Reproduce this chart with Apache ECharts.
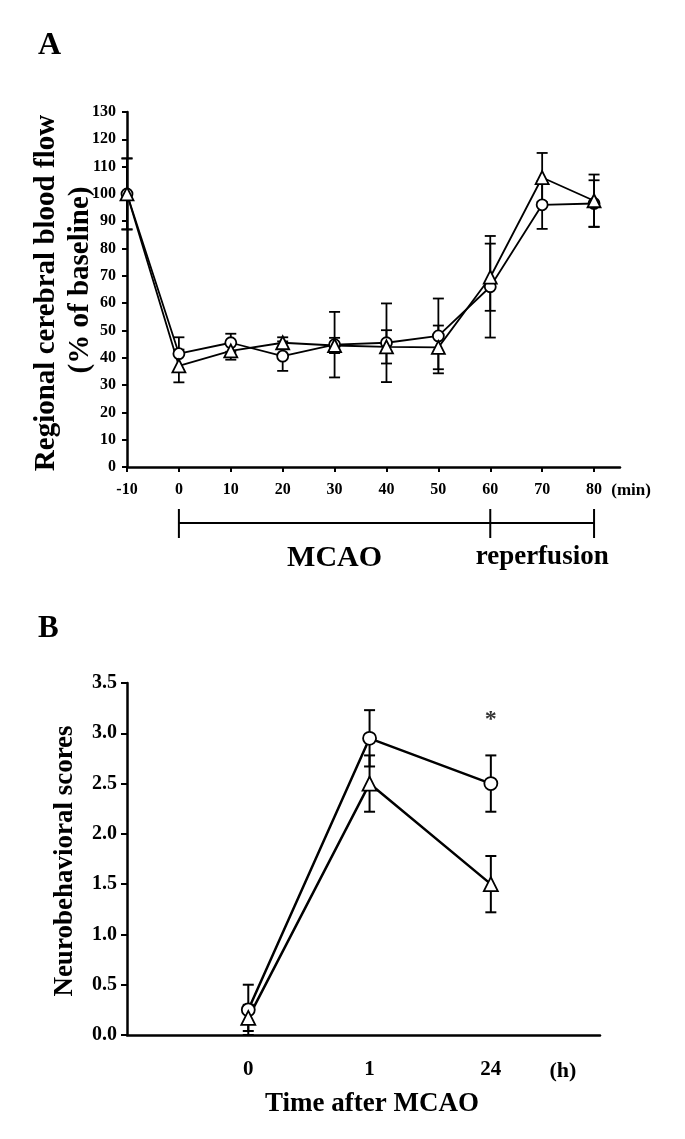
<!DOCTYPE html>
<html>
<head>
<meta charset="utf-8">
<script src="https://cdn.jsdelivr.net/npm/echarts@6/dist/echarts.min.js"></script>
<style>
html,body{margin:0;padding:0;background:#fff;}
#c{width:685px;height:1139px;}
</style>
</head>
<body>
<div id="c"></div>
<script>
// ---------- Panel A data ----------
const xA = [-10, 0, 10, 20, 30, 40, 50, 60, 70, 80];
const xATicks = [-10, 0, 10, 20, 30, 40, 50, 60, 70, 80];
const circA = [100, 41.5, 45.5, 40.6, 44.8, 45.5, 48, 66, 96, 96.5];
const circAErr = [13, 6, 3.3, 5.4, 12, 14.4, 13.7, 18.6, 8.8, 8.5];
const triA = [100, 37, 42.5, 45.5, 44.5, 44, 43.8, 69.5, 106, 97.5];
const triAErr = [13, 6, 3.2, 2, 2.8, 6.1, 8, 12.3, 9, 9.6];
const phaseBounds = [0, 60, 80];
const phaseLabels = ['MCAO', 'reperfusion'];

// ---------- Panel B data ----------
const xB = [0, 1, 2];
const xBLabels = ['0', '1', '24'];
const circB = [0.25, 2.95, 2.5];
const circBErr = [0.25, 0.28, 0.28];
const triB = [0.17, 2.5, 1.5];
const triBErr = [0.13, 0.28, 0.28];
const sigB = ['', '', '*'];

const FONT = '"Liberation Serif", "Times New Roman", serif';

function pts(xs, ys) { return xs.map((x, i) => [x, ys[i]]); }
function errs(xs, ys, es) { return xs.map((x, i) => [x, ys[i] - es[i], ys[i] + es[i]]); }

function errSeries(xi, yi, data, lw) {
  return {
    type: 'custom', xAxisIndex: xi, yAxisIndex: yi, z: 3,
    data: data,
    renderItem: function (params, api) {
      const x = api.value(0);
      const lo = api.coord([x, api.value(1)]);
      const hi = api.coord([x, api.value(2)]);
      const w = 5.5;
      const st = { stroke: '#000', lineWidth: lw };
      return {
        type: 'group',
        children: [
          { type: 'line', shape: { x1: lo[0], y1: lo[1], x2: hi[0], y2: hi[1] }, style: st },
          { type: 'line', shape: { x1: lo[0] - w, y1: lo[1], x2: lo[0] + w, y2: lo[1] }, style: st },
          { type: 'line', shape: { x1: hi[0] - w, y1: hi[1], x2: hi[0] + w, y2: hi[1] }, style: st }
        ]
      };
    }
  };
}

function lineSeries(xi, yi, data, symbol, size, lw) {
  return {
    type: 'line', xAxisIndex: xi, yAxisIndex: yi, z: 4,
    data: data, symbol: symbol, symbolSize: size, showAllSymbol: true,
    lineStyle: { color: '#000', width: lw },
    itemStyle: { color: '#fff', borderColor: '#000', borderWidth: 1.8 },
    emphasis: { disabled: true }, animation: false
  };
}

const lblA = { fontFamily: FONT, fontWeight: 'bold', fontSize: 16, color: '#000' };
const lblB = { fontFamily: FONT, fontWeight: 'bold', fontSize: 20, color: '#000' };

const chart = echarts.init(document.getElementById('c'), null, { renderer: 'canvas' });

const option = {
  animation: false,
  backgroundColor: '#fff',
  grid: [
    { left: 127, top: 112, width: 493, height: 355 },
    { left: 127, top: 683, width: 473, height: 352 }
  ],
  xAxis: [
    {
      gridIndex: 0, type: 'value', min: -10, max: 85,
      axisLine: { show: true, onZero: false, lineStyle: { color: '#000', width: 2.5 } },
      axisTick: { show: true, customValues: xATicks, length: 5, lineStyle: { color: '#000', width: 2 } },
      axisLabel: Object.assign({ customValues: xATicks, margin: 15 }, lblA),
      splitLine: { show: false }
    },
    {
      gridIndex: 1, type: 'value', min: -1, max: 2.9,
      axisLine: { show: true, onZero: false, lineStyle: { color: '#000', width: 2.5 } },
      axisTick: { show: false },
      axisLabel: {
        customValues: xB, margin: 24, fontSize: 21, fontFamily: FONT, fontWeight: 'bold', color: '#000',
        formatter: function (v) { const i = xB.indexOf(v); return i >= 0 ? xBLabels[i] : ''; }
      },
      splitLine: { show: false }
    }
  ],
  yAxis: [
    {
      gridIndex: 0, type: 'value', min: 0, max: 130, interval: 10,
      axisLine: { show: true, onZero: false, lineStyle: { color: '#000', width: 2.5 } },
      axisTick: { show: true, length: 5, lineStyle: { color: '#000', width: 2 } },
      axisLabel: Object.assign({ margin: 11 }, lblA),
      splitLine: { show: false }
    },
    {
      gridIndex: 1, type: 'value', min: 0, max: 3.5, interval: 0.5,
      axisLine: { show: true, onZero: false, lineStyle: { color: '#000', width: 2.5 } },
      axisTick: { show: true, length: 6, lineStyle: { color: '#000', width: 2 } },
      axisLabel: Object.assign({ margin: 10, formatter: v => v.toFixed(1) }, lblB),
      splitLine: { show: false }
    }
  ],
  series: [
    errSeries(0, 0, errs(xA, circA, circAErr), 1.8),
    errSeries(0, 0, errs(xA, triA, triAErr), 1.8),
    lineSeries(0, 0, pts(xA, circA), 'circle', 11, 1.8),
    lineSeries(0, 0, pts(xA, triA), 'triangle', 13, 1.8),
    errSeries(1, 1, errs(xB, circB, circBErr), 2),
    errSeries(1, 1, errs(xB, triB, triBErr), 2),
    lineSeries(1, 1, pts(xB, circB), 'circle', 13, 2.5),
    lineSeries(1, 1, pts(xB, triB), 'triangle', 14, 2.5),
    {
      type: 'scatter', xAxisIndex: 1, yAxisIndex: 1, symbolSize: 0, z: 5,
      data: xB.map((x, i) => sigB[i] ? { value: [x, circB[i] + circBErr[i]], name: sigB[i] } : null).filter(Boolean),
      label: { show: true, position: 'top', distance: 24, formatter: p => p.name,
               fontFamily: FONT, fontWeight: 'bold', fontSize: 24, color: '#000' }
    }
  ]
};
chart.setOption(option);

// ---------- annotations (text + MCAO bracket) ----------
const bx = phaseBounds.map(v => chart.convertToPixel({ xAxisIndex: 0 }, v));
const axisY = chart.convertToPixel({ yAxisIndex: 0 }, 0);
const bracketY = axisY + 56;
const graphics = [];
graphics.push({ type: 'line', shape: { x1: bx[0], y1: bracketY, x2: bx[bx.length - 1], y2: bracketY }, style: { stroke: '#000', lineWidth: 2 } });
bx.forEach(x => graphics.push({ type: 'line', shape: { x1: x, y1: bracketY - 14, x2: x, y2: bracketY + 15 }, style: { stroke: '#000', lineWidth: 2 } }));
phaseLabels.forEach((t, i) => {
  graphics.push({ type: 'text', x: (bx[i] + bx[i + 1]) / 2, y: bracketY + (i === 0 ? 35 : 34),
    style: { text: t, fontFamily: FONT, fontWeight: 'bold', fontSize: i === 0 ? 30 : 27, fill: '#000', align: 'center', verticalAlign: 'middle' } });
});
// "(min)" unit
const minX = chart.convertToPixel({ xAxisIndex: 0 }, 80);
graphics.push({ type: 'text', x: minX + 37, y: axisY + 24,
  style: { text: '(min)', fontFamily: FONT, fontWeight: 'bold', fontSize: 17, fill: '#000', align: 'center', verticalAlign: 'middle' } });
// "(h)" unit
const hY = chart.convertToPixel({ yAxisIndex: 1 }, 0);
const hX = chart.convertToPixel({ xAxisIndex: 1 }, 2);
graphics.push({ type: 'text', x: hX + 72, y: hY + 36,
  style: { text: '(h)', fontFamily: FONT, fontWeight: 'bold', fontSize: 22, fill: '#000', align: 'center', verticalAlign: 'middle' } });
// panel letters
graphics.push({ type: 'text', x: 38, y: 46, style: { text: 'A', fontFamily: FONT, fontWeight: 'bold', fontSize: 32, fill: '#000', verticalAlign: 'middle' } });
graphics.push({ type: 'text', x: 38, y: 629, style: { text: 'B', fontFamily: FONT, fontWeight: 'bold', fontSize: 31, fill: '#000', verticalAlign: 'middle' } });
// y titles
graphics.push({ type: 'text', x: 47, y: 293, rotation: Math.PI / 2,
  style: { text: 'Regional cerebral blood flow', fontFamily: FONT, fontWeight: 'bold', fontSize: 29, fill: '#000', align: 'center', verticalAlign: 'middle' } });
graphics.push({ type: 'text', x: 81, y: 280, rotation: Math.PI / 2,
  style: { text: '(% of baseline)', fontFamily: FONT, fontWeight: 'bold', fontSize: 29, fill: '#000', align: 'center', verticalAlign: 'middle' } });
graphics.push({ type: 'text', x: 65, y: 861, rotation: Math.PI / 2,
  style: { text: 'Neurobehavioral scores', fontFamily: FONT, fontWeight: 'bold', fontSize: 27, fill: '#000', align: 'center', verticalAlign: 'middle' } });
// x title B
graphics.push({ type: 'text', x: 372, y: 1104,
  style: { text: 'Time after MCAO', fontFamily: FONT, fontWeight: 'bold', fontSize: 27, fill: '#000', align: 'center', verticalAlign: 'middle' } });

chart.setOption({ graphic: graphics });
</script>
</body>
</html>
